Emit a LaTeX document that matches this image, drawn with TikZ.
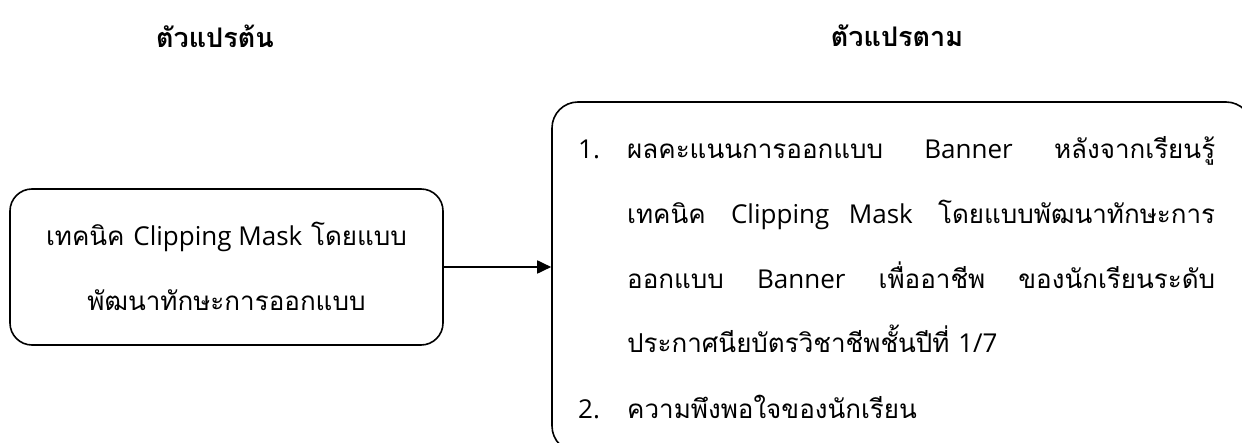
\documentclass[tikz,border=0pt]{standalone}
\usepackage{fontspec}
\setmainfont[Script=Thai]{Loma}
\newfontfamily\latfont[Scale=1.0]{Open Sans}
\newcommand\lt[1]{{\latfont #1}}
\usetikzlibrary{arrows.meta}
\begin{document}
\begin{tikzpicture}[x=1pt,y=-1pt,
  box/.style={draw,line width=1.6pt,rounded corners=22pt,inner sep=0pt},
  head/.style={font=\fontsize{27}{27}\selectfont\bfseries},
  txt/.style={font=\fontsize{26}{26}\selectfont,inner sep=0pt},
  conn/.style={line width=1.8pt,-{Triangle[length=14pt,width=13pt]}}]
\useasboundingbox (0,0) rectangle (1242,443);
\fill[white] (0,0) rectangle (1242,443);
\node[head] (h1) at (215,36) {ตัวแปรต้น};
\node[head] (h2) at (897,36) {ตัวแปรตาม};
\node[box,minimum width=433pt,minimum height=156pt] (iv) at (226.5,267) {};
\node[txt,anchor=base] (iv1) at (226.5,246) {เทคนิค \lt{Clipping Mask} โดยแบบ};
\node[txt,anchor=base] (iv2) at (226.5,311) {พัฒนาทักษะการออกแบบ};
\node[box,rounded corners=26pt,minimum width=700pt,minimum height=350pt] (dv) at (902,277) {};
\draw[conn] (iv.east) -- (iv.east -| dv.west);
\node[txt,anchor=base west] (n1) at (578,159) {\lt{1.}};
\node[txt,anchor=base west] (l1) at (627,159) {\makebox[588pt][s]{ผลคะแนนการออกแบบ \lt{Banner} หลังจากเรียนรู้}};
\node[txt,anchor=base west] (l2) at (627,224) {\makebox[588pt][s]{เทคนิค \lt{Clipping Mask} โดยแบบพัฒนาทักษะการ}};
\node[txt,anchor=base west] (l3) at (627,289) {\makebox[588pt][s]{ออกแบบ \lt{Banner} เพื่ออาชีพ ของนักเรียนระดับ}};
\node[txt,anchor=base west] (l4) at (627,353) {ประกาศนียบัตรวิชาชีพชั้นปีที่ \lt{1/7}};
\node[txt,anchor=base west] (n2) at (578,418) {\lt{2.}};
\node[txt,anchor=base west] (l5) at (627,418) {ความพึงพอใจของนักเรียน};
\end{tikzpicture}
\end{document}
